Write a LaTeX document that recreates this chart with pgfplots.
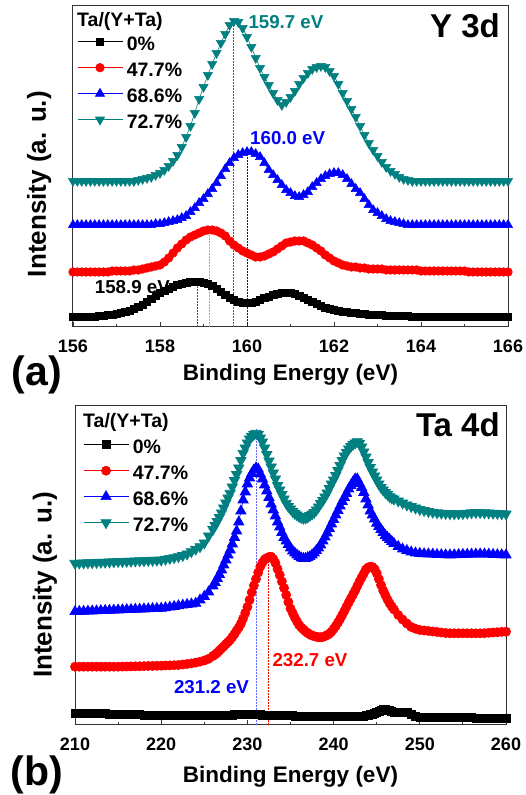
\documentclass[border=0pt]{standalone}
\usepackage{fontspec}
\setmainfont{Liberation Sans}
\usepackage{pgfplots}
\pgfplotsset{compat=1.18}
\usepackage{pgfplotstable}
\definecolor{dcyan}{RGB}{0,128,128}

% Y 3d spectra (offset intensities, arbitrary units)
\pgfplotstableread{
x k r b t
156.0 10 55 102 146
156.1 10 55 102 146
156.2 10 55 102 146
156.3 10 55 102 146
156.4 10 55 102 146
156.5 10 55 102 146
156.6 11 55 102 146
156.7 11 55 102 146
156.8 12 55 102 146
156.9 12 56 102 146
157.0 13 56 102 146
157.1 14 56 102 146
157.2 15 56 102 146
157.3 16 56 102 146
157.4 18 57 102 146
157.5 20 57 102 147
157.6 22 58 102 148
157.7 25 59 102 149
157.8 28 60 102 150
157.9 31 61 103 152
158.0 34 62 103 154
158.1 36 65 104 157
158.2 38 69 105 161
158.3 40 74 106 166
158.4 42 79 107 172
158.5 43 83 109 180
158.6 44 87 111 190
158.7 45 90 115 201
158.8 45 92 119 214
158.9 45 94 124 228
159.0 44 96 128 240
159.1 43 97 133 252
159.2 41 97 138 263
159.3 38 96 144 274
159.4 35 94 151 284
159.5 32 91 158 293
159.6 29 86 164 302
159.7 27 82 169 306
159.8 25 79 172 305
159.9 24 76 174 299
160.0 24 74 175 290
160.1 24 72 175 280
160.2 25 70 173 269
160.3 27 70 170 259
160.4 29 71 164 250
160.5 30 73 157 242
160.6 32 75 152 234
160.7 33 78 147 227
160.8 34 81 142 222
160.9 34 84 137 225
161.0 34 85 134 230
161.1 33 86 131 236
161.2 31 86 130 243
161.3 29 86 132 249
161.4 27 84 135 254
161.5 25 82 140 258
161.6 23 79 144 260
161.7 21 76 148 261
161.8 19 72 151 260
161.9 18 69 153 256
162.0 17 66 154 251
162.1 16 64 154 243
162.2 15 62 152 234
162.3 15 61 148 226
162.4 14 60 143 218
162.5 14 60 138 210
162.6 13 59 134 201
162.7 13 59 128 192
162.8 12 58 122 184
162.9 12 58 117 177
163.0 12 58 114 171
163.1 12 58 111 165
163.2 11 57 108 160
163.3 11 57 106 156
163.4 11 57 105 153
163.5 11 57 104 150
163.6 11 57 103 148
163.7 11 57 102 147
163.8 10 57 102 146
163.9 10 57 102 146
164.0 10 56 102 146
164.1 10 56 102 146
164.2 10 56 102 146
164.3 10 56 102 146
164.4 10 56 102 146
164.5 10 56 102 146
164.6 10 56 102 146
164.7 10 56 102 146
164.8 10 56 102 146
164.9 10 56 102 146
165.0 10 56 102 146
165.1 10 55 102 146
165.2 10 55 102 146
165.3 10 55 102 146
165.4 10 55 102 146
165.5 10 55 102 146
165.6 10 55 102 146
165.7 10 55 102 146
165.8 10 55 102 146
165.9 10 55 102 146
166.0 10 55 102 146
}\ydata

% Ta 4d spectra (offset intensities, arbitrary units)
\pgfplotstableread{
x k r b t
210 11.7 58.3 113.3 161.7
210.5 11.7 58.3 113.5 161.9
211 11.6 58.3 113.6 162.0
211.5 11.6 58.3 113.8 162.2
212 11.5 58.3 114.0 162.3
212.5 11.4 58.3 114.1 162.5
213 11.3 58.3 114.3 162.7
213.5 11.2 58.3 114.5 162.8
214 11.0 58.3 114.6 163.0
214.5 10.9 58.3 114.8 163.2
215 10.8 58.3 115.0 163.4
215.5 10.7 58.4 115.1 163.5
216 10.5 58.5 115.3 163.7
216.5 10.4 58.6 115.5 163.8
217 10.3 58.7 115.7 164.0
217.5 10.2 58.8 115.8 164.2
218 10.1 58.9 116.0 164.3
218.5 10.0 59.0 116.2 164.5
219 10.0 59.1 116.4 164.7
219.5 10.0 59.2 116.5 164.8
220 10.0 59.3 116.7 165.0
220.5 9.9 59.5 117.2 165.8
221 9.9 59.6 117.8 166.6
221.5 9.8 59.8 118.5 167.4
222 9.8 60.0 119.2 168.3
222.5 9.7 60.5 119.8 169.5
223 9.7 61.0 120.5 171.0
223.5 9.6 61.6 121.0 173.3
224 9.6 62.4 121.7 175.8
224.5 9.6 63.3 125.0 178.3
225 9.5 64.5 128.5 182.0
225.5 9.5 66.2 133.0 189.0
226 9.5 69.0 139.0 195.5
226.25 9.5 70.5 142.5 199.5
226.5 9.5 72.3 146.5 203.5
226.75 9.6 74.4 150.5 207.5
227 9.6 76.5 155.0 212.0
227.25 9.6 78.6 160.0 217.0
227.5 9.7 80.8 165.0 222.0
227.75 9.7 82.9 170.0 227.0
228 9.8 85.0 175.0 231.7
228.25 10.0 88.0 181.0 238.0
228.5 10.2 91.0 187.5 244.5
228.75 10.3 94.5 194.0 250.5
229 10.5 97.5 203.0 257.0
229.25 10.6 101.5 214.0 264.5
229.5 10.8 106.5 225.0 271.7
229.75 10.9 112.0 233.0 277.0
230 11.0 118.0 241.0 282.0
230.25 10.9 125.0 247.0 286.0
230.5 10.8 132.5 251.5 288.5
230.75 10.6 139.5 255.0 290.5
231 10.5 146.0 257.0 291.7
231.25 10.4 152.5 256.0 290.5
231.5 10.3 158.3 251.0 287.0
231.75 10.1 162.5 246.0 283.0
232 10.0 165.5 240.0 277.0
232.25 10.0 167.0 234.0 270.5
232.5 9.9 168.0 227.5 264.0
232.75 9.9 168.3 221.0 258.0
233 9.8 166.0 215.0 252.0
233.25 9.7 162.0 209.0 246.0
233.5 9.6 156.0 203.0 239.5
233.75 9.6 150.0 198.0 235.0
234 9.5 143.5 192.5 230.5
234.25 9.4 137.0 187.5 226.0
234.5 9.4 130.0 184.0 221.7
234.75 9.3 123.0 180.5 218.5
235 9.3 116.5 177.0 216.0
235.25 9.2 112.0 174.0 213.5
235.5 9.1 107.5 172.0 211.5
235.75 9.1 103.5 170.0 210.0
236 9.0 100.0 168.5 208.5
236.25 9.0 97.5 167.0 207.5
236.5 8.9 95.5 166.5 206.7
236.75 8.9 93.5 166.5 207.0
237 8.9 92.0 167.5 208.0
237.25 8.8 90.5 168.3 209.5
237.5 8.8 89.5 170.0 211.0
237.75 8.7 88.8 172.0 212.5
238 8.7 88.2 174.5 215.0
238.25 8.7 87.8 177.0 218.0
238.5 8.7 87.7 180.0 221.5
238.75 8.6 88.0 184.0 224.5
239 8.6 88.8 188.0 228.0
239.25 8.6 90.0 192.0 232.0
239.5 8.6 91.3 196.5 236.5
239.75 8.5 93.3 201.0 241.0
240 8.5 96.0 205.5 245.0
240.25 8.5 99.0 210.0 249.5
240.5 8.5 102.3 214.5 254.5
240.75 8.4 106.0 219.0 259.5
241 8.4 110.0 223.5 264.5
241.25 8.4 114.0 227.5 269.0
241.5 8.4 118.3 231.5 272.5
241.75 8.3 122.5 236.0 276.0
242 8.3 126.5 239.5 278.5
242.25 8.3 130.5 243.0 280.5
242.5 8.4 134.5 246.0 282.0
242.75 8.4 139.0 246.0 283.3
243 8.5 143.5 241.5 281.5
243.25 8.7 147.5 237.5 278.0
243.5 9.0 151.5 232.5 273.0
243.75 9.2 155.5 226.0 268.0
244 9.5 157.5 220.0 262.5
244.25 10.2 158.3 214.0 257.5
244.5 11.0 158.0 210.0 253.0
244.75 12.0 156.0 206.0 249.0
245 13.0 151.7 201.7 245.0
245.25 14.0 146.0 198.5 241.0
245.5 15.0 140.0 195.5 237.5
245.75 15.3 134.5 192.5 235.0
246 15.5 130.0 189.5 232.5
246.25 15.0 125.5 187.5 230.5
246.5 14.5 121.7 185.5 228.3
246.75 13.7 118.5 183.5 227.0
247 13.0 115.5 181.5 226.0
247.5 12.5 110.0 178.5 224.0
248 12.7 105.5 176.0 222.0
248.5 12.5 101.5 174.5 220.0
249 11.0 98.0 173.0 218.5
249.5 9.0 96.3 172.0 217.0
250 8.0 95.0 171.5 215.5
250.5 7.8 94.5 171.2 214.5
251 7.5 94.0 171.0 213.5
251.5 7.5 93.5 170.8 212.8
252 7.4 93.0 170.5 212.2
252.5 7.4 92.5 170.3 211.8
253 7.3 92.0 170.1 211.5
253.5 7.3 91.7 170.0 211.3
254 7.3 91.7 170.2 211.2
254.5 7.2 91.7 170.4 211.2
255 7.2 91.7 170.5 211.4
255.5 7.2 91.7 170.7 211.8
256 7.2 91.7 170.8 212.2
256.5 7.1 91.7 170.9 212.5
257 7.1 91.7 171.0 212.4
257.5 7.1 91.8 171.0 212.2
258 7.1 92.2 170.8 212.0
258.5 7.0 92.5 170.5 211.8
259 7.0 92.8 170.3 211.5
259.5 7.0 93.1 170.2 211.2
260 7.0 93.3 170.0 211.0
}\tadata

\pgfplotsset{
  xps/.style={
    scale only axis,
    axis line style={line width=1pt, black!80},
    ytick=\empty,
    tick align=inside,
    xtick pos=bottom,
    major tick length=5pt, minor tick length=3pt,
    every tick/.style={black!80, line width=0.9pt},
    minor x tick num=1,
    /pgf/number format/assume math mode=true,
    xticklabel style={font=\bfseries\fontsize{18}{18}\selectfont, inner sep=0pt, anchor=north, yshift=-13pt},
    xlabel style={font=\bfseries\fontsize{22.5}{22.5}\selectfont, anchor=center},
    ylabel style={font=\bfseries\fontsize{26}{26}\selectfont, anchor=center},
    xlabel={Binding Energy (eV)},
    ylabel={Intensity (a. u.)},
    legend cell align=left,
    legend style={draw=none, fill=none, inner sep=0pt, row sep=6pt, column sep=3pt,
      font=\bfseries\fontsize{19.5}{19.5}\selectfont,
      nodes={inner sep=1pt, text height=14pt, text depth=4pt}},
    legend image code/.code={\draw[#1, line width=0.6pt, mark repeat=2, mark phase=2]
      plot coordinates {(0pt,0.35em) (22.5pt,0.35em) (45pt,0.35em)};},
  },
  sk/.style={black, line width=0.6pt, mark=square*, mark size=#1},
  sr/.style={red, line width=0.6pt, mark=*, mark size=#1},
  sb/.style={blue, line width=0.6pt, mark=triangle*, mark size=#1},
  st/.style={dcyan, line width=0.6pt, mark=triangle*, mark size=#1, mark options={rotate=180}},
  vline/.style={forget plot, line width=1pt, dash pattern=on 1.5pt off 1.5pt, mark=none},
}

\begin{document}
\begin{tikzpicture}
\useasboundingbox (0,0) rectangle (525pt,795pt);

% ---------- (a) Y 3d ----------
\begin{axis}[xps,
  at={(73pt,468pt)}, anchor=south west,
  width=435pt, height=321pt,
  xmin=156, xmax=166, ymin=0, ymax=321,
  xtick={156,158,...,166},
  xlabel style={at={(axis description cs:0.5,-0.15)}},
  ylabel style={at={(axis description cs:-0.078,0.445)}},
  legend style={at={(axis description cs:0.0092,0.9097)}, anchor=north west},
]
\addplot[sk=3.7pt] table[x=x, y=k] {\ydata};
\addplot[sr=4.3pt] table[x=x, y=r] {\ydata};
\addplot[sb=5.3pt] table[x=x, y=b] {\ydata};
\addplot[st=5.3pt] table[x=x, y=t] {\ydata};
\legend{0\%, 47.7\%, 68.6\%, 72.7\%}
\addplot[vline, black!70] coordinates {(158.86,0) (158.86,45)};
\addplot[vline, red!50] coordinates {(159.13,0) (159.13,97)};
\addplot[vline, dcyan] coordinates {(159.69,0) (159.69,306)};
\addplot[vline, blue] coordinates {(160.0,0) (160.0,175)};
\node[anchor=west, inner sep=0pt, font=\bfseries\fontsize{19.5}{19.5}\selectfont]
  at (axis description cs:0.0092,0.953) {Ta/(Y+Ta)};
\node[anchor=east, inner sep=0pt, font=\bfseries\fontsize{33}{33}\selectfont]
  at (axis description cs:0.9816,0.9377) {Y 3d};
\node[anchor=west, inner sep=0pt, dcyan, font=\bfseries\fontsize{18.7}{18.7}\selectfont]
  at (axis cs:160.03,305) {159.7 eV};
\node[anchor=west, inner sep=0pt, blue, font=\bfseries\fontsize{18.7}{18.7}\selectfont]
  at (axis cs:160.07,189) {160.0 eV};
\node[anchor=east, inner sep=0pt, black, font=\bfseries\fontsize{18.7}{18.7}\selectfont]
  at (axis cs:158.23,40) {158.9 eV};
\end{axis}

% ---------- (b) Ta 4d ----------
\begin{axis}[xps,
  at={(75pt,70pt)}, anchor=south west,
  width=431pt, height=319pt,
  xmin=210, xmax=260, ymin=0, ymax=319,
  xtick={210,220,...,260},
  xlabel style={at={(axis description cs:0.5,-0.163)}},
  ylabel style={at={(axis description cs:-0.07,0.439)}},
  legend style={at={(axis description cs:0.0186,0.8997)}, anchor=north west},
]
\addplot[sk=4pt] table[x=x, y=k] {\tadata};
\addplot[sr=4.6pt] table[x=x, y=r] {\tadata};
\addplot[sb=6pt] table[x=x, y=b] {\tadata};
\addplot[st=6pt] table[x=x, y=t] {\tadata};
\legend{0\%, 47.7\%, 68.6\%, 72.7\%}
\addplot[vline, blue!60] coordinates {(231.05,0) (231.05,297)};
\addplot[vline, red] coordinates {(232.5,0) (232.5,168)};
\node[anchor=west, inner sep=0pt, font=\bfseries\fontsize{19.5}{19.5}\selectfont]
  at (axis description cs:0.0186,0.947) {Ta/(Y+Ta)};
\node[anchor=east, inner sep=0pt, font=\bfseries\fontsize{33}{33}\selectfont]
  at (axis description cs:0.986,0.9404) {Ta 4d};
\node[anchor=east, inner sep=0pt, blue, font=\bfseries\fontsize{18.7}{18.7}\selectfont]
  at (axis cs:230.2,38) {231.2 eV};
\node[anchor=west, inner sep=0pt, red, font=\bfseries\fontsize{18.7}{18.7}\selectfont]
  at (axis cs:232.9,65) {232.7 eV};
\end{axis}

\node[font=\bfseries\fontsize{41}{41}\selectfont] at (37pt,420pt) {(a)};
\node[font=\bfseries\fontsize{41}{41}\selectfont] at (37pt,20pt) {(b)};
\end{tikzpicture}
\end{document}
